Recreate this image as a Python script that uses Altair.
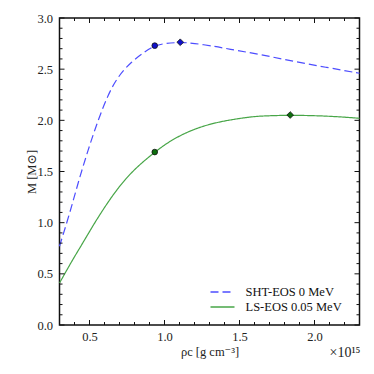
import altair as alt
import pandas as pd

# ---- data ----
sht_rho = [0.30, 0.368, 0.423, 0.49, 0.557, 0.623, 0.69, 0.779, 0.868, 0.935, 1.0, 1.105,
           1.19, 1.348, 1.415, 1.637, 1.86, 2.08, 2.3]
sht_M = [0.77, 1.09, 1.385, 1.71, 2.0, 2.25, 2.43, 2.573, 2.67, 2.73, 2.752, 2.763,
         2.755, 2.72, 2.70, 2.645, 2.575, 2.518, 2.46]
ls_rho = [0.30, 0.40, 0.435, 0.55, 0.685, 0.803, 0.935, 1.037, 1.17, 1.303, 1.437, 1.57,
          1.637, 1.838, 2.103, 2.3]
ls_M = [0.41, 0.67, 0.75, 1.04, 1.336, 1.53, 1.69, 1.80, 1.90, 1.965, 2.005, 2.033,
        2.042, 2.052, 2.042, 2.02]

series_names = ["SHT-EOS 0 MeV", "LS-EOS 0.05 MeV"]
circle_rho = [0.935, 0.935]
circle_M = [2.73, 1.69]
diamond_rho = [1.105, 1.838]
diamond_M = [2.763, 2.052]

x_major = [0.5, 1.0, 1.5, 2.0]
x_minor = [0.3, 0.4, 0.6, 0.7, 0.8, 0.9, 1.1, 1.2, 1.3, 1.4, 1.6, 1.7, 1.8, 1.9, 2.1, 2.2]
y_major = [0.0, 0.5, 1.0, 1.5, 2.0, 2.5, 3.0]
y_minor = [0.1, 0.2, 0.3, 0.4, 0.6, 0.7, 0.8, 0.9, 1.1, 1.2, 1.3, 1.4, 1.6, 1.7, 1.8, 1.9,
           2.1, 2.2, 2.3, 2.4, 2.6, 2.7, 2.8, 2.9]

# ---- layout ----
W, H = 300, 307
FONT = "Liberation Serif, DejaVu Serif, serif"
FS = 12.5
line_colors = ["#4d4dff", "#48a648"]
dashes = [[8, 4], [1, 0]]
marker_fill = ["#1010cc", "#0d6e0d"]

lines = pd.concat([
    pd.DataFrame({"rho": sht_rho, "M": sht_M, "series": series_names[0]}),
    pd.DataFrame({"rho": ls_rho, "M": ls_M, "series": series_names[1]}),
])
circles = pd.DataFrame({"rho": circle_rho, "M": circle_M, "series": series_names})
diamonds = pd.DataFrame({"rho": diamond_rho, "M": diamond_M, "series": series_names})

xs = alt.Scale(domain=[0.3, 2.3], nice=False, zero=False)
ys = alt.Scale(domain=[0.0, 3.0], nice=False, zero=False)

x_axis = alt.Axis(values=x_major, format=".1f", title="ρc [g cm⁻³]", ticks=False, domain=False,
                  grid=False, labelFont=FONT, labelFontSize=FS, labelColor="#222",
                  titleFont=FONT, titleFontSize=FS, titleFontWeight="normal", titleColor="#222",
                  labelPadding=5, titlePadding=3)
y_axis = alt.Axis(values=y_major, format=".1f", title="M [M⊙]", ticks=False, domain=False,
                  grid=False, labelFont=FONT, labelFontSize=FS, labelColor="#222",
                  titleFont=FONT, titleFontSize=FS, titleFontWeight="normal", titleColor="#222",
                  labelPadding=7, titlePadding=-2)

X = alt.X("rho:Q", scale=xs, axis=x_axis)
Y = alt.Y("M:Q", scale=ys, axis=y_axis)

line_layer = alt.Chart(lines).mark_line(strokeWidth=1.2, interpolate="basis").encode(
    x=X, y=Y,
    color=alt.Color("series:N", scale=alt.Scale(domain=series_names, range=line_colors), legend=None),
    strokeDash=alt.StrokeDash("series:N", scale=alt.Scale(domain=series_names, range=dashes), legend=None),
)

fill_scale = alt.Scale(domain=series_names, range=marker_fill)
circle_layer = alt.Chart(circles).mark_point(shape="circle", filled=True, size=32, stroke="#111",
                                             strokeWidth=0.8, opacity=1).encode(
    x=X, y=Y, fill=alt.Fill("series:N", scale=fill_scale, legend=None),
)
diamond_layer = alt.Chart(diamonds).mark_point(shape="diamond", filled=True, size=45, stroke="#111",
                                               strokeWidth=0.8, opacity=1).encode(
    x=X, y=Y, fill=alt.Fill("series:N", scale=fill_scale, legend=None),
)


def xticks(vals, length):
    df = pd.DataFrame({"rho": vals})
    base = alt.Chart(df).mark_rule(color="#111", strokeWidth=1)
    bottom = base.encode(x=X, y=alt.value(H), y2=alt.value(H - length))
    top = base.encode(x=X, y=alt.value(0), y2=alt.value(length))
    return [bottom, top]


def yticks(vals, length):
    df = pd.DataFrame({"M": vals})
    base = alt.Chart(df).mark_rule(color="#111", strokeWidth=1)
    left = base.encode(y=Y, x=alt.value(0), x2=alt.value(length))
    right = base.encode(y=Y, x=alt.value(W), x2=alt.value(W - length))
    return [left, right]


tick_layers = xticks(x_major, 5) + xticks(x_minor, 3) + yticks(y_major, 5) + yticks(y_minor, 3)

# legend (drawn as a small key in the lower right)
legend_layers = []
for i, name in enumerate(series_names):
    ky = 274 + 15 * i
    legend_layers.append(
        alt.Chart(pd.DataFrame({"s": [name]})).mark_rule(
            color=line_colors[i], strokeDash=dashes[i], strokeWidth=1.5
        ).encode(x=alt.value(151), x2=alt.value(175), y=alt.value(ky))
    )
    legend_layers.append(
        alt.Chart(pd.DataFrame({"s": [name]})).mark_text(
            font=FONT, fontSize=FS, align="left", baseline="middle", color="#111"
        ).encode(text="s:N", x=alt.value(186), y=alt.value(ky))
    )

mult = alt.Chart(pd.DataFrame({"t": ["×10¹⁵"]})).mark_text(
    font=FONT, fontSize=14, align="right", baseline="middle", color="#222"
).encode(text="t:N", x=alt.value(W + 1), y=alt.value(H + 28))

chart = alt.layer(line_layer, circle_layer, diamond_layer, *tick_layers, *legend_layers, mult).properties(
    width=W, height=H,
    autosize=alt.AutoSizeParams(type="none"),
    padding={"left": 51.5, "top": 10, "right": 6, "bottom": 40},
).configure(background="white").configure_view(stroke="#111", strokeWidth=1.5)

chart.save("out.html", embed_options={"renderer": "svg", "actions": False})
